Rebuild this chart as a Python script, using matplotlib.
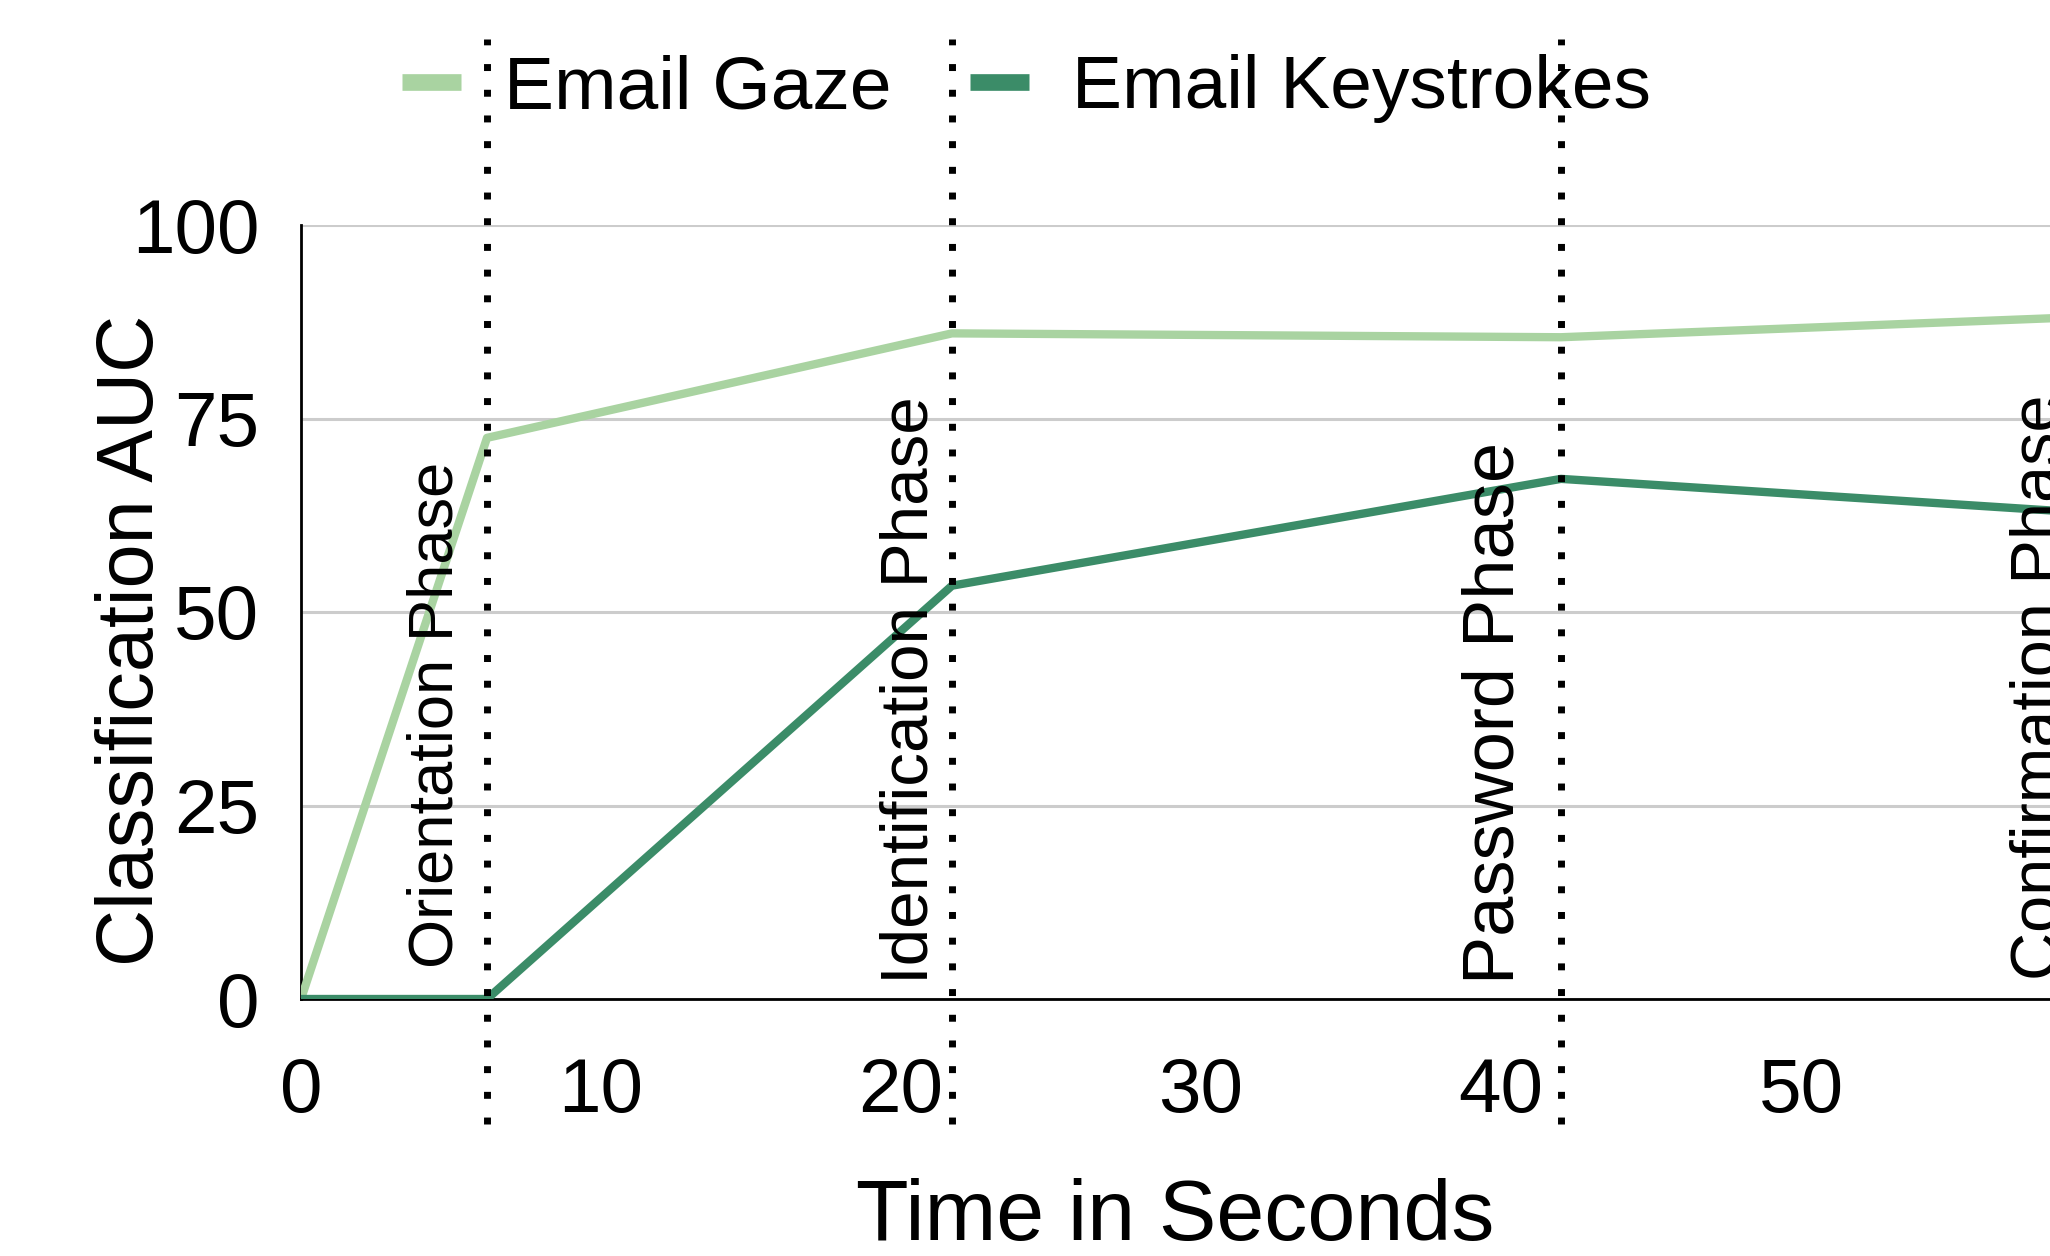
import matplotlib
matplotlib.use("Agg")
import matplotlib.pyplot as plt

# data (time in s, AUC in %)
time_s = [0, 6.2, 21.7, 42.0, 60.0]
gaze_auc = [0, 72.5, 86.0, 85.5, 88.2]
key_time = [0, 6.2, 21.7, 42.0, 60.0]
key_auc = [0, 0, 53.4, 67.2, 62.7]

phase_x = [6.2, 21.7, 42.0, 60.0]
phase_names = ["Orientation Phase", "Identification Phase", "Password Phase", "Confirmation Phase"]
phase_label_x = [4.5, 20.3, 39.8, 58.0]
phase_label_y = [4.0, 2.0, 2.0, 2.4]
phase_label_size = [45.5, 48.5, 52, 48]

x_ticks = [0, 10, 20, 30, 40, 50]
y_ticks = [0, 25, 50, 75, 100]

plt.rcParams['font.family'] = ['Liberation Sans', 'DejaVu Sans']

gaze_color = '#a9d3a1'
key_color = '#3b8c68'

fig = plt.figure(figsize=(20.5, 12.56), dpi=100)
ax = fig.add_axes([301 / 2050, 1 - 999 / 1256, 1 - 301 / 2050, 774 / 1256])

ax.plot(time_s, gaze_auc, color=gaze_color, lw=6, label='Email Gaze', zorder=3)
ax.plot(key_time, key_auc, color=key_color, lw=6, label='Email Keystrokes', zorder=3)

# phase boundaries, running past the axes like in the original
for px in phase_x:
    ax.axvline(px, ymin=-0.162, ymax=1.24, color='black', lw=5,
               linestyle=(0, (1, 2.7)), clip_on=False, zorder=4)

# the last label is cut by the right edge in the original too
for name, lx, ly, fs in zip(phase_names, phase_label_x, phase_label_y, phase_label_size):
    ax.text(lx, ly, name, rotation=90, ha='center', va='bottom', fontsize=fs, zorder=5)

ax.set_xlim(0, 58.3)
ax.set_ylim(0, 100)
ax.set_xticks(x_ticks)
ax.set_yticks(y_ticks)
ax.tick_params(axis='both', length=0, labelsize=55)
ax.tick_params(axis='x', pad=42)
ax.tick_params(axis='y', pad=30)

ax.grid(axis='y', color='#cccccc', lw=2.2, zorder=0)
ax.grid(axis='x', visible=False)
for side in ['top', 'right']:
    ax.spines[side].set_visible(False)
for side in ['left', 'bottom']:
    ax.spines[side].set_color('black')
    ax.spines[side].set_linewidth(2)

ax.set_xlabel('Time in Seconds', fontsize=62, labelpad=36)
ax.set_ylabel('Classification AUC', fontsize=57)
ax.yaxis.set_label_coords(-0.075, 0.463)

leg = ax.legend(loc='center', bbox_to_anchor=(0.415, 1.176), ncol=2, frameon=False,
                fontsize=54, handlelength=0.78, handletextpad=0.58, columnspacing=1.05)
for line in leg.get_lines():
    line.set_linewidth(12)
    line.set_solid_capstyle('butt')

fig.savefig('out.png', dpi=100)
